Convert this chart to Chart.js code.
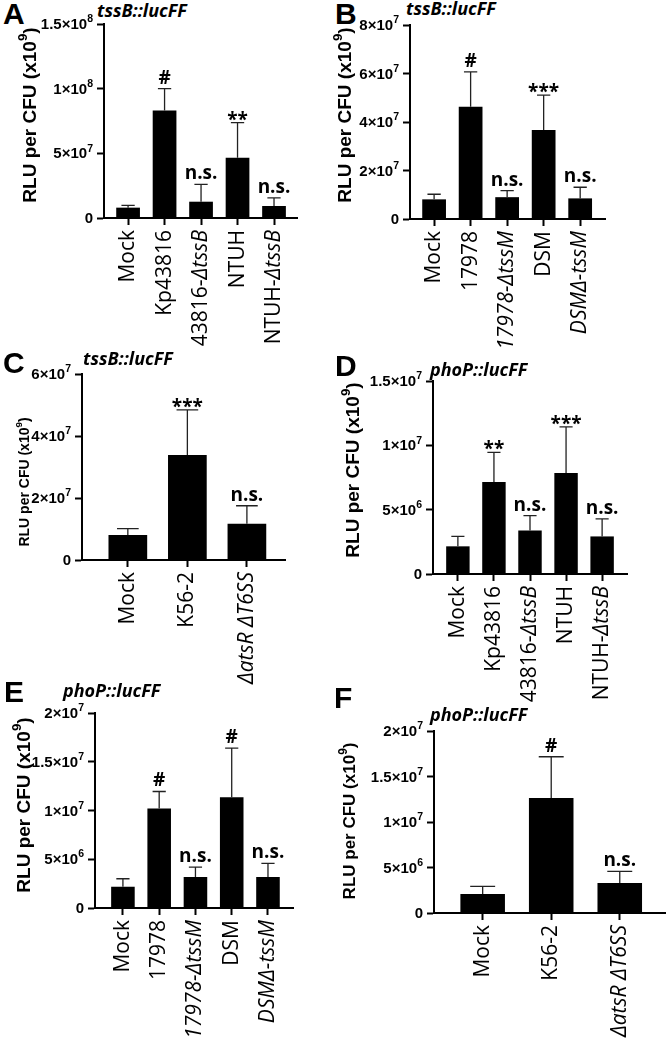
<!DOCTYPE html>
<html>
<head>
<meta charset="utf-8">
<script src="https://cdn.jsdelivr.net/npm/chart.js@4"></script>
<style>
  body { margin: 0; background: #fff; width: 668px; height: 1049px; position: relative; overflow: hidden; }
  canvas { position: absolute; }
  .letter { position: absolute; font: bold 30px 'Liberation Sans', Arial, sans-serif; line-height: 1; }
  .title { position: absolute; font: italic bold 18px 'Open Sans', sans-serif; line-height: 1; white-space: nowrap; }
</style>
</head>
<body>
<script>
// Values (RLU per CFU), error = upper SD
const yTitle = 'RLU per CFU (x10⁹)';

// A: tssB::lucFF, Klebsiella
const catsA = ['Mock', 'Kp43816', '43816-_ΔtssB_', 'NTUH', 'NTUH-_ΔtssB_'];
const meansA = [0.80e7, 8.32e7, 1.26e7, 4.66e7, 0.93e7];
const errA = [0.18e7, 1.68e7, 1.34e7, 2.71e7, 0.62e7];
const sigA = ['', '#', 'n.s.', '**', 'n.s.'];
const ticksA = [0, 5e7, 1e8, 1.5e8];
const tickLabelsA = ['0', '5×10⁷', '1×10⁸', '1.5×10⁸'];

// B: tssB::lucFF, Acinetobacter
const catsB = ['Mock', '17978', '_17978-ΔtssM_', 'DSM', '_DSMΔ-tssM_'];
const meansB = [0.81e7, 4.63e7, 0.90e7, 3.67e7, 0.85e7];
const errB = [0.21e7, 1.44e7, 0.27e7, 1.44e7, 0.46e7];
const sigB = ['', '#', 'n.s.', '***', 'n.s.'];
const ticksB = [0, 2e7, 4e7, 6e7, 8e7];
const tickLabelsB = ['0', '2×10⁷', '4×10⁷', '6×10⁷', '8×10⁷'];

// C: tssB::lucFF, Burkholderia
const catsC = ['Mock', 'K56-2', '_ΔatsR ΔT6SS_'];
const meansC = [0.81e7, 3.39e7, 1.17e7];
const errC = [0.20e7, 1.45e7, 0.58e7];
const sigC = ['', '***', 'n.s.'];
const ticksC = [0, 2e7, 4e7, 6e7];
const tickLabelsC = ['0', '2×10⁷', '4×10⁷', '6×10⁷'];

// D: phoP::lucFF, Klebsiella
const catsD = ['Mock', 'Kp43816', '43816-_ΔtssB_', 'NTUH', 'NTUH-_ΔtssB_'];
const meansD = [2.15e6, 7.15e6, 3.39e6, 7.85e6, 2.92e6];
const errD = [0.77e6, 2.31e6, 1.14e6, 3.58e6, 1.36e6];
const sigD = ['', '**', 'n.s.', '***', 'n.s.'];
const ticksD = [0, 5e6, 1e7, 1.5e7];
const tickLabelsD = ['0', '5×10⁶', '1×10⁷', '1.5×10⁷'];

// E: phoP::lucFF, Acinetobacter
const catsE = ['Mock', '17978', '_17978-ΔtssM_', 'DSM', '_DSMΔ-tssM_'];
const meansE = [2.18e6, 10.2e6, 3.18e6, 11.37e6, 3.18e6];
const errE = [0.82e6, 1.75e6, 1.02e6, 5.03e6, 1.39e6];
const sigE = ['', '#', 'n.s.', '#', 'n.s.'];
const ticksE = [0, 5e6, 1e7, 1.5e7, 2e7];
const tickLabelsE = ['0', '5×10⁶', '1×10⁷', '1.5×10⁷', '2×10⁷'];

// F: phoP::lucFF, Burkholderia
const catsF = ['Mock', 'K56-2', '_ΔatsR ΔT6SS_'];
const meansF = [2.09e6, 12.64e6, 3.30e6];
const errF = [0.83e6, 4.53e6, 1.27e6];
const sigF = ['', '#', 'n.s.'];
const ticksF = [0, 5e6, 1e7, 1.5e7, 2e7];
const tickLabelsF = ['0', '5×10⁶', '1×10⁷', '1.5×10⁷', '2×10⁷'];

// layout of each panel on the page
const panels = [
  { letter: 'A', title: 'tssB::lucFF', cats: catsA, means: meansA, err: errA, sig: sigA, ticks: ticksA, tickLabels: tickLabelsA,
    box: [0, 0, 330, 360], area: [104, 24, 297, 218], pad: [0.66, 0.63], yT: [31, 115, 19], letterPos: [3, -1], titlePos: [97, 1] },
  { letter: 'B', title: 'tssB::lucFF', cats: catsB, means: meansB, err: errB, sig: sigB, ticks: ticksB, tickLabels: tickLabelsB,
    box: [330, 0, 338, 360], area: [410, 25, 605, 219], pad: [0.66, 0.68], yT: [346, 115, 19], letterPos: [335, -1], titlePos: [406, -1] },
  { letter: 'C', title: 'tssB::lucFF', cats: catsC, means: meansC, err: errC, sig: sigC, ticks: ticksC, tickLabels: tickLabelsC,
    box: [0, 345, 330, 355], area: [82, 374, 285, 560], pad: [0.77, 0.64], yT: [25, 482, 14], letterPos: [3, 348], titlePos: [83, 349] },
  { letter: 'D', title: 'phoP::lucFF', cats: catsD, means: meansD, err: errD, sig: sigD, ticks: ticksD, tickLabels: tickLabelsD,
    box: [330, 360, 338, 360], area: [433, 381, 627, 574], pad: [0.69, 0.69], yT: [354, 470, 19], letterPos: [335, 351], titlePos: [430, 360] },
  { letter: 'E', title: 'phoP::lucFF', cats: catsE, means: meansE, err: errE, sig: sigE, ticks: ticksE, tickLabels: tickLabelsE,
    box: [0, 680, 330, 369], area: [95, 713, 293, 908], pad: [0.77, 0.69], yT: [25, 805, 19], letterPos: [4, 677], titlePos: [63, 681] },
  { letter: 'F', title: 'phoP::lucFF', cats: catsF, means: meansF, err: errF, sig: sigF, ticks: ticksF, tickLabels: tickLabelsF,
    box: [330, 680, 338, 369], area: [434, 731, 665, 913], pad: [0.71, 0.66], yT: [350, 821, 17], letterPos: [334, 683], titlePos: [430, 705] }
];

Chart.defaults.font.family = "'Liberation Sans', Arial, sans-serif";
Chart.defaults.color = '#000';

const SUP = { '⁰': '0', '¹': '1', '²': '2', '³': '3', '⁴': '4', '⁵': '5', '⁶': '6', '⁷': '7', '⁸': '8', '⁹': '9' };

// split text into runs: normal text and superscript digits
function supRuns(text, size) {
  const runs = [];
  for (const ch of text) {
    const sup = ch in SUP;
    const last = runs[runs.length - 1];
    if (last && last.sup === sup) last.s += sup ? SUP[ch] : ch;
    else runs.push({ s: sup ? SUP[ch] : ch, sup });
  }
  runs.forEach(r => { r.f = r.sup ? size * 0.7 : size; r.dy = r.sup ? -size * 0.38 : 0; });
  return runs;
}

// draws runs so that the text ends (align right) or is centred on x
function drawRuns(ctx, runs, x, y, align) {
  let total = 0;
  runs.forEach(r => {
    ctx.font = 'bold ' + r.f + 'px "Liberation Sans", Arial, sans-serif';
    r.w = ctx.measureText(r.s).width;
    total += r.w;
  });
  let cx = align === 'right' ? x - total : x - total / 2;
  ctx.textAlign = 'left';
  runs.forEach(r => {
    ctx.font = 'bold ' + r.f + 'px "Liberation Sans", Arial, sans-serif';
    ctx.fillText(r.s, cx, y + r.dy);
    cx += r.w;
  });
}

// error bars (upper only) and significance marks
const errorBars = {
  id: 'errorBars',
  afterDatasetsDraw(chart) {
    const ctx = chart.ctx;
    const ys = chart.scales.y;
    const ds = chart.data.datasets[0];
    const meta = chart.getDatasetMeta(0);
    ctx.save();
    ctx.strokeStyle = '#222';
    ctx.lineWidth = 1.3;
    ctx.fillStyle = '#000';
    ctx.font = 'bold 19px "Open Sans", sans-serif';
    ctx.textAlign = 'center';
    ctx.textBaseline = 'alphabetic';
    meta.data.forEach((bar, i) => {
      const top = ys.getPixelForValue(ds.data[i].y + ds.errors[i]);
      const half = bar.width * 0.28;
      ctx.beginPath();
      ctx.moveTo(bar.x, bar.y);
      ctx.lineTo(bar.x, top);
      ctx.moveTo(bar.x - half, top);
      ctx.lineTo(bar.x + half, top);
      ctx.stroke();
      const mark = ds.marks[i];
      if (mark) {
        const dy = mark[0] === '*' ? 3 : -5;
        ctx.fillText(mark, bar.x, top + dy);
      }
    });
    ctx.restore();
  }
};

// y tick labels, y axis title, rotated category labels (parts between _ are italic)
const panelText = {
  id: 'panelText',
  afterDraw(chart, args, opts) {
    const ctx = chart.ctx;
    const xs = chart.scales.x;
    const ys = chart.scales.y;
    const base = chart.chartArea.bottom + 12;
    ctx.save();
    ctx.fillStyle = '#000';
    ctx.textBaseline = 'middle';

    ys.ticks.forEach((t, i) => {
      drawRuns(ctx, supRuns(opts.tickLabels[i], 15), chart.chartArea.left - 11, ys.getPixelForValue(t.value) + 1, 'right');
    });

    ctx.save();
    ctx.translate(opts.yT[0], opts.yT[1]);
    ctx.rotate(-Math.PI / 2);
    drawRuns(ctx, supRuns(yTitle, opts.yT[2]), 0, 0, 'center');
    ctx.restore();

    opts.cats.forEach((lab, i) => {
      const parts = lab.split('_').map((s, k) => ({ s, it: k % 2 === 1 })).filter(p => p.s);
      const fonts = parts.map(p => (p.it ? 'italic ' : '') + '21px "Open Sans", sans-serif');
      let total = 0;
      const widths = parts.map((p, k) => {
        ctx.font = fonts[k];
        const w = ctx.measureText(p.s).width;
        total += w;
        return w;
      });
      ctx.save();
      ctx.translate(xs.getPixelForValue(i), base);
      ctx.rotate(-Math.PI / 2);
      ctx.textAlign = 'left';
      let x = -total;
      parts.forEach((p, k) => {
        ctx.font = fonts[k];
        ctx.fillText(p.s, x, 0);
        x += widths[k];
      });
      ctx.restore();
    });
    ctx.restore();
  }
};

function makePanel(p) {
  const [bx, by, bw, bh] = p.box;
  const [al, at, ar, ab] = p.area;

  const letter = document.createElement('div');
  letter.className = 'letter';
  letter.textContent = p.letter;
  letter.style.left = p.letterPos[0] + 'px';
  letter.style.top = p.letterPos[1] + 'px';
  document.body.appendChild(letter);

  const title = document.createElement('div');
  title.className = 'title';
  title.textContent = p.title;
  title.style.left = p.titlePos[0] + 'px';
  title.style.top = p.titlePos[1] + 'px';
  document.body.appendChild(title);

  const canvas = document.createElement('canvas');
  canvas.width = bw;
  canvas.height = bh;
  canvas.style.left = bx + 'px';
  canvas.style.top = by + 'px';
  document.body.appendChild(canvas);

  new Chart(canvas, {
    type: 'bar',
    data: {
      datasets: [{
        data: p.means.map((v, i) => ({ x: i, y: v })),
        errors: p.err,
        marks: p.sig,
        backgroundColor: '#000',
        borderWidth: 0,
        barPercentage: 0.65,
        categoryPercentage: 1
      }]
    },
    options: {
      responsive: false,
      animation: false,
      events: [],
      layout: { padding: { left: 0, top: at - by, right: bx + bw - ar, bottom: 0 } },
      plugins: {
        legend: { display: false },
        tooltip: { enabled: false },
        panelText: { cats: p.cats, tickLabels: p.tickLabels, yT: [p.yT[0] - bx, p.yT[1] - by, p.yT[2]] }
      },
      scales: {
        x: {
          type: 'linear',
          min: -p.pad[0],
          max: p.cats.length - 1 + p.pad[1],
          offset: false,
          grid: { display: true, offset: false, drawOnChartArea: false, tickLength: 7, tickColor: '#000', tickWidth: 2 },
          border: { color: '#000', width: 2 },
          ticks: { display: false },
          afterBuildTicks: s => { s.ticks = p.cats.map((c, i) => ({ value: i })); },
          afterFit: s => { s.height = by + bh - ab; }
        },
        y: {
          min: 0,
          max: p.ticks[p.ticks.length - 1],
          grid: { display: true, drawOnChartArea: false, tickLength: 7, tickColor: '#000', tickWidth: 2 },
          border: { color: '#000', width: 2 },
          ticks: { display: false },
          afterBuildTicks: s => { s.ticks = p.ticks.map(v => ({ value: v })); },
          afterFit: s => { s.width = al - bx; }
        }
      }
    },
    plugins: [errorBars, panelText]
  });
}

panels.forEach(makePanel);
</script>
</body>
</html>
